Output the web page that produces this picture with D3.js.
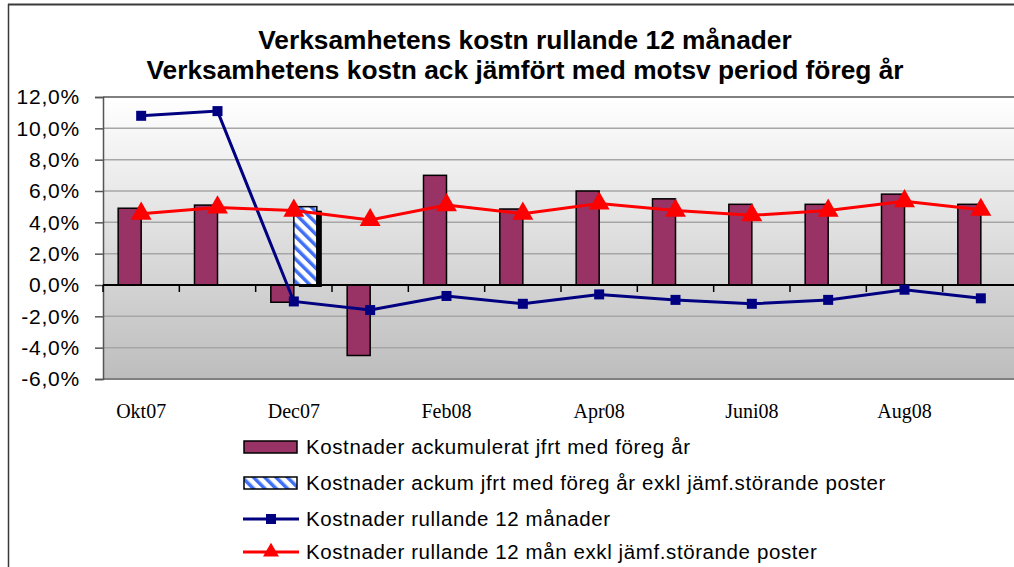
<!DOCTYPE html>
<html>
<head>
<meta charset="utf-8">
<script src="https://cdn.jsdelivr.net/npm/d3@7/dist/d3.min.js"></script>
<style>
    html, body { margin: 0; padding: 0; background: #ffffff; }
    svg { display: block; }
</style>
</head>
<body>
<svg id="chart" width="1014" height="567"></svg>
<script>
// months on the category axis (only every second one gets a label)
const months = ["Okt07", "Nov07", "Dec07", "Jan08", "Feb08", "Mar08",
                "Apr08", "Maj08", "Juni08", "Jul08", "Aug08", "Sep08"];

// series values in percent
const ackum = [4.9, 5.1, -1.1, -4.5, 7.0, 4.85, 6.0, 5.5, 5.15, 5.15, 5.8, 5.15];
const ackum_exkl = [null, null, 5.0, null, null, null, null, null, null, null, null, null];
const rullande = [10.8, 11.1, -1.05, -1.6, -0.7, -1.2, -0.6, -0.95, -1.2, -0.95, -0.3, -0.85];
const rullande_exkl = [4.55, 4.95, 4.75, 4.15, 5.1, 4.55, 5.2, 4.75, 4.45, 4.75, 5.35, 4.8];

const y_ticks = [-6, -4, -2, 0, 2, 4, 6, 8, 10, 12];

const titles = ["Verksamhetens kostn rullande 12 månader",
                "Verksamhetens kostn ack jämfört med motsv period föreg år"];

const legend_labels = [
    "Kostnader ackumulerat jfrt med föreg år",
    "Kostnader ackum jfrt med föreg år exkl jämf.störande poster",
    "Kostnader rullande 12 månader",
    "Kostnader rullande 12 mån exkl jämf.störande poster"
];

const BAR_COLOR = "#993366";
const BLUE = "#000080";
const RED = "#ff0000";

const svg = d3.select("#chart");

const plot = { left: 103, right: 1019, top: 97, bottom: 379 };

const x = d3.scaleBand()
    .domain(months)
    .range([plot.left, plot.right])
    .paddingInner(0)
    .paddingOuter(0);

const y = d3.scaleLinear()
    .domain([-6, 12])
    .range([plot.bottom, plot.top]);

const bar_w = 23;
// excel style label, plain hyphen and decimal comma
const fmt = (v) => v.toFixed(1).replace(".", ",") + "%";

// defs: background gradient, hatch pattern
const defs = svg.append("defs");
const grad = defs.append("linearGradient")
    .attr("id", "bg")
    .attr("x1", 0).attr("y1", 0)
    .attr("x2", 0).attr("y2", 1);
grad.append("stop").attr("offset", "0%").attr("stop-color", "#ffffff");
grad.append("stop").attr("offset", "100%").attr("stop-color", "#bdbdbd");

const hatch = defs.append("pattern")
    .attr("id", "hatch")
    .attr("patternUnits", "userSpaceOnUse")
    .attr("width", 8).attr("height", 8)
    .attr("patternTransform", "rotate(-45)");
hatch.append("rect").attr("width", 8).attr("height", 8).attr("fill", "#ffffff");
hatch.append("rect").attr("x", 0).attr("width", 3.5).attr("height", 8).attr("fill", "#3f6ff5");

// outer chart border (only top and left are visible in the crop)
svg.append("line")
    .attr("x1", 8).attr("y1", 4.5).attr("x2", 1014).attr("y2", 4.5)
    .attr("stroke", "#3a3a3a").attr("stroke-width", 2);
svg.append("line")
    .attr("x1", 8.5).attr("y1", 4).attr("x2", 8.5).attr("y2", 567)
    .attr("stroke", "#3a3a3a").attr("stroke-width", 1.5);

// titles
svg.selectAll("text.title")
    .data(titles)
    .enter()
    .append("text")
    .attr("class", "title")
    .attr("x", 525)
    .attr("y", (d, i) => 49 + i * 30)
    .attr("text-anchor", "middle")
    .style("font-family", "Liberation Sans, Arial, sans-serif")
    .style("font-weight", "bold")
    .style("font-size", "26.3px")
    .text((d) => d);

// plot background
svg.append("rect")
    .attr("x", plot.left).attr("y", plot.top)
    .attr("width", plot.right - plot.left)
    .attr("height", plot.bottom - plot.top)
    .attr("fill", "url(#bg)");

// gridlines
svg.append("g")
    .selectAll("line")
    .data(y_ticks.filter((t) => t != 0 && t != -6 && t != 12))
    .enter()
    .append("line")
    .attr("x1", plot.left).attr("x2", plot.right)
    .attr("y1", (d) => y(d)).attr("y2", (d) => y(d))
    .attr("stroke", "#a6a6a6")
    .attr("stroke-width", 1.5);

// plot frame top / bottom
[12, -6].forEach(function (v) {
    svg.append("line")
        .attr("x1", plot.left).attr("x2", plot.right)
        .attr("y1", y(v)).attr("y2", y(v))
        .attr("stroke", "#808080")
        .attr("stroke-width", 2);
});

// y axis
const y_axis = svg.append("g")
    .attr("transform", `translate(${plot.left},0)`)
    .call(d3.axisLeft(y).tickValues(y_ticks).tickSize(8).tickFormat(fmt));
y_axis.select(".domain").attr("stroke", "#555555").attr("stroke-width", 1.5);
y_axis.selectAll(".tick line").attr("stroke", "#555555").attr("stroke-width", 1.5);
y_axis.selectAll(".tick text")
    .attr("x", -23)
    .style("font-family", "Liberation Sans, Arial, sans-serif")
    .style("font-size", "21px")
    .style("letter-spacing", "0.8px")
    .attr("fill", "#000000");

// maroon bars
svg.append("g")
    .selectAll("rect")
    .data(months.map((m, i) => ({ m: m, v: ackum[i] })))
    .enter()
    .append("rect")
    .attr("x", (d) => x(d.m) + x.bandwidth() / 2 - bar_w)
    .attr("y", (d) => y(Math.max(0, d.v)))
    .attr("width", bar_w)
    .attr("height", (d) => Math.abs(y(d.v) - y(0)))
    .attr("fill", BAR_COLOR)
    .attr("stroke", "#000000")
    .attr("stroke-width", 1.5);

// hatched bars with drop shadow
const exkl = months
    .map((m, i) => ({ m: m, v: ackum_exkl[i] }))
    .filter((d) => d.v != null);
const exkl_g = svg.append("g");
exkl_g.selectAll("rect.shadow")
    .data(exkl)
    .enter()
    .append("rect")
    .attr("class", "shadow")
    .attr("x", (d) => x(d.m) + x.bandwidth() / 2 + 5)
    .attr("y", (d) => y(d.v) + 4)
    .attr("width", bar_w)
    .attr("height", (d) => y(0) - y(d.v) - 2)
    .attr("fill", "#000000");
exkl_g.selectAll("rect.bar")
    .data(exkl)
    .enter()
    .append("rect")
    .attr("class", "bar")
    .attr("x", (d) => x(d.m) + x.bandwidth() / 2)
    .attr("y", (d) => y(d.v))
    .attr("width", bar_w)
    .attr("height", (d) => y(0) - y(d.v))
    .attr("fill", "url(#hatch)")
    .attr("stroke", "#000000")
    .attr("stroke-width", 1.5);

// zero line with category ticks
svg.append("line")
    .attr("x1", plot.left).attr("x2", plot.right)
    .attr("y1", y(0)).attr("y2", y(0))
    .attr("stroke", "#000000").attr("stroke-width", 2);
svg.append("g")
    .selectAll("line")
    .data(months)
    .enter()
    .append("line")
    .attr("x1", (d) => x(d)).attr("x2", (d) => x(d))
    .attr("y1", y(0)).attr("y2", y(0) + 7)
    .attr("stroke", "#000000").attr("stroke-width", 1.5);

// category labels
svg.append("g")
    .selectAll("text")
    .data(months.filter((d, i) => i % 2 == 0))
    .enter()
    .append("text")
    .attr("x", (d) => x(d) + x.bandwidth() / 2)
    .attr("y", 418)
    .attr("text-anchor", "middle")
    .style("font-family", "Liberation Serif, Times New Roman, serif")
    .style("font-size", "20px")
    .text((d) => d);

const line = d3.line()
    .x((d) => x(d.m) + x.bandwidth() / 2)
    .y((d) => y(d.v));

// blue line, square markers
const blue_data = months.map((m, i) => ({ m: m, v: rullande[i] }));
svg.append("path")
    .datum(blue_data)
    .attr("d", line)
    .attr("fill", "none")
    .attr("stroke", BLUE)
    .attr("stroke-width", 3);
svg.append("g")
    .selectAll("rect")
    .data(blue_data)
    .enter()
    .append("rect")
    .attr("x", (d) => x(d.m) + x.bandwidth() / 2 - 5)
    .attr("y", (d) => y(d.v) - 5)
    .attr("width", 10).attr("height", 10)
    .attr("fill", BLUE);

// red line, triangle markers
const red_data = months.map((m, i) => ({ m: m, v: rullande_exkl[i] }));
const tri = d3.symbol().type(d3.symbolTriangle).size(190);
svg.append("path")
    .datum(red_data)
    .attr("d", line)
    .attr("fill", "none")
    .attr("stroke", RED)
    .attr("stroke-width", 3);
svg.append("g")
    .selectAll("path")
    .data(red_data)
    .enter()
    .append("path")
    .attr("d", tri)
    .attr("transform", (d) => `translate(${x(d.m) + x.bandwidth() / 2},${y(d.v)})`)
    .attr("fill", RED);

// legend
const legend_y = [447, 483, 519, 552];
const legend = svg.append("g");
legend.append("rect")
    .attr("x", 244).attr("y", legend_y[0] - 6)
    .attr("width", 53).attr("height", 12)
    .attr("fill", BAR_COLOR).attr("stroke", "#000000").attr("stroke-width", 1.5);
legend.append("rect")
    .attr("x", 244).attr("y", legend_y[1] - 6)
    .attr("width", 53).attr("height", 12)
    .attr("fill", "url(#hatch)").attr("stroke", "#000000").attr("stroke-width", 1.5);
legend.append("line")
    .attr("x1", 243).attr("x2", 299)
    .attr("y1", legend_y[2]).attr("y2", legend_y[2])
    .attr("stroke", BLUE).attr("stroke-width", 3);
legend.append("rect")
    .attr("x", 266).attr("y", legend_y[2] - 5)
    .attr("width", 10).attr("height", 10)
    .attr("fill", BLUE);
legend.append("line")
    .attr("x1", 243).attr("x2", 299)
    .attr("y1", legend_y[3]).attr("y2", legend_y[3])
    .attr("stroke", RED).attr("stroke-width", 3);
legend.append("path")
    .attr("d", d3.symbol().type(d3.symbolTriangle).size(110))
    .attr("transform", `translate(271,${legend_y[3]})`)
    .attr("fill", RED);

legend.selectAll("text")
    .data(legend_labels)
    .enter()
    .append("text")
    .attr("x", 306)
    .attr("y", (d, i) => legend_y[i])
    .attr("dy", "0.36em")
    .style("font-family", "Liberation Sans, Arial, sans-serif")
    .style("font-size", "20.5px")
    .style("letter-spacing", "0.6px")
    .text((d) => d);
</script>
</body>
</html>
